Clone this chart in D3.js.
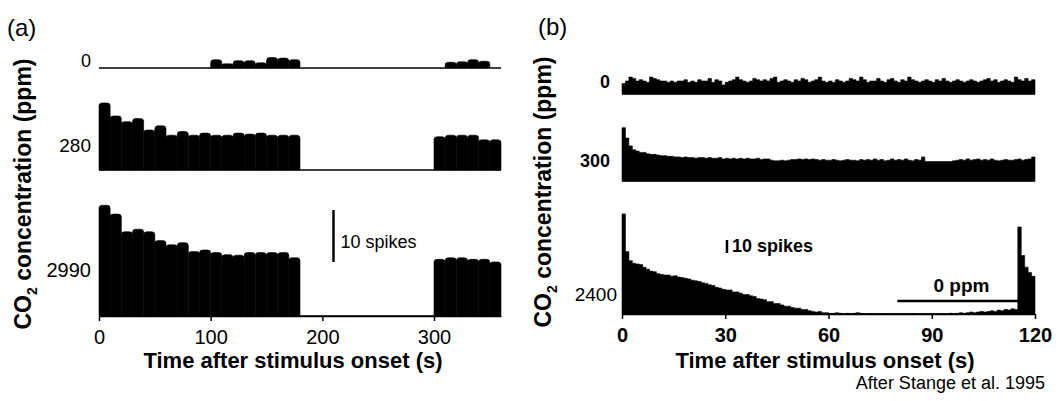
<!DOCTYPE html>
<html>
<head>
<meta charset="utf-8">
<script src="https://cdn.jsdelivr.net/npm/d3@7"></script>
<style>
  body { margin: 0; background: #fff; }
  text { font-family: "Liberation Sans", Arial, sans-serif; fill: #000; }
</style>
</head>
<body>
<div id="container"></div>
<script>
// ---- panel (a): 10 s bins, spikes per bin ----
var aBinEdges = d3.range(0, 360, 10);
var aRowLabels = ['0', '280', '2990'];
var aRow0 = [0,0,0,0,0,0,0,0,0,0, 1.6,0.8,1.4,1.4,1.0,2.0,1.9,1.6,
             0,0,0,0,0,0,0,0,0,0,0,0, 0,1.1,1.2,1.6,1.3,0];
var aRow280 = [12.9,10.4,9.3,9.9,7.7,8.5,6.7,7.4,6.7,7.1,6.7,6.7,7.1,6.9,7.1,6.7,6.7,6.7,
               0,0,0,0,0,0,0,0,0,0,0,0, 6.4,6.7,6.7,6.7,5.8,5.8];
var aRow2990 = [21.3,19.6,16.2,16.7,16.2,14.5,13.7,14.1,12.4,12.7,12.2,11.8,11.7,12.2,12.2,12.2,12.2,11.2,
                0,0,0,0,0,0,0,0,0,0,0,0, 10.9,11.2,11.2,10.9,10.9,10.4];
var aTicks = [0, 100, 200, 300];

// ---- panel (b): 1 s bins, spikes per bin ----
var bRowLabels = ['0', '300', '2400'];
var bRow0 = [8,10,13,12,10,11,10,9,13,12, 11,10,10,9,10,9,10,10,11,9,
             10,9,11,10,10,12,9,11,10,7, 9,10,11,13,11,10,9,10,12,11,
             10,11,10,12,13,9,10,11,10,9, 11,10,12,11,9,10,11,13,10,9,
             10,9,11,10,9,10,12,11,10,13, 11,9,10,10,12,10,9,11,12,10,
             9,11,10,13,11,10,9,10,11,10, 9,11,10,12,10,9,10,11,10,9,
             10,11,10,9,10,11,12,10,11,9, 10,11,10,9,13,11,10,12,10,11];
var bRow300 = [41,33,27,24,23,22,22,21,20.5,20.5, 20,19.5,19.5,19,19,18.5,18.5,18,18.5,18,
               18,17.5,18,18,17.5,18,17.5,17.5,18,17, 17.5,17,17.5,17,17.5,17,17.5,17,17,17.5,
               16.5,17,17,16,15.5,15.5,16,15.5,16,16.5, 16.5,17,16.5,17,16.5,17,16.5,16,16.5,16,
               16,16.5,16,15.5,16,16.5,16,16,15.5,16.5, 16,16.5,16,17,16,16.5,15.5,16,17,16,
               16.5,16,17,16,15.5,16.5,16,18.5,15,15, 15,15,15,15,15,15,15.5,16,16.5,16,
               17,16,16.5,17,16,16.5,16,17,16,15.5, 16,16.5,16,16,16.5,17,16,16.5,17,18.5];
var bRow2400 = [77,48,41,39,38.5,38,36,34.5,33,32.5, 31,30.5,30,30,29,29.5,28.5,28,27.5,27,
                26,25.5,25,24,23.5,22.5,22,20.5,20,19, 18.5,18.5,17,17,16,15,15,14,13.5,12,
                11.5,11,9.5,9.5,8,8,7,6,6,5, 4.5,4.5,3.5,3.5,2.5,2,1.5,2,1,1,
                0.5,0.5,1,0.5,0,0.5,0,0.5,1,0.5, 0,0,0.3,0,0,0,0.3,0,0,0,
                0,0,0,0,0.3,0,0,0,0,0, 0,0,0,0,0,0.5,0,0.5,1,0.5,
                1,1.5,1,1.5,2,1.5,2,2.5,2,3, 2.5,3.5,3,4,3.5,67,45,36,32,29];
var bTicks = [0, 30, 60, 90, 120];
var bStimulus = [80, 115.5];   // 0 ppm period (s)

var spikeScaleBar = 10;

var width = 1058, height = 401;
var svg = d3.select('#container').append('svg')
    .attr('width', width).attr('height', height);

// ================= panel (a) =================
var xa = d3.scaleLinear().domain([0, 360]).range([99, 501]);
var aBases = [68, 170, 316];
var aPx = 5.2; // px per spike
var aLabelSize = [18, 19, 20];
var aLabelOffset = [6, 23, 44];

[aRow0, aRow280, aRow2990].forEach(function(row, ri){
    var base = aBases[ri];
    var y = d3.scaleLinear().domain([0, 10]).range([base, base - 10 * aPx]);
    svg.append('line')
        .attr('x1', xa(0)).attr('x2', xa(360))
        .attr('y1', base).attr('y2', base)
        .attr('stroke', '#000').attr('stroke-width', 1.5);
    svg.append('g').selectAll('path')
        .data(row.map(function(v, i){ return {t: aBinEdges[i], v: v}; }).filter(function(d){ return d.v > 0; }))
        .enter().append('path')
        .attr('d', function(d){
            var x0 = xa(d.t), x1 = xa(d.t + 10), y0 = y(0), y1 = y(d.v);
            var r = Math.min(3, (y0 - y1) / 2);
            return 'M' + x0 + ',' + y0 + 'L' + x0 + ',' + (y1 + r) +
                'Q' + x0 + ',' + y1 + ' ' + (x0 + r) + ',' + y1 +
                'L' + (x1 - r) + ',' + y1 +
                'Q' + x1 + ',' + y1 + ' ' + x1 + ',' + (y1 + r) +
                'L' + x1 + ',' + y0 + 'Z';
        })
        .attr('fill', '#000').attr('stroke', '#000').attr('stroke-width', 0.6);
    svg.append('text')
        .attr('x', 91).attr('y', base - aLabelOffset[ri])
        .attr('text-anchor', 'end').attr('dominant-baseline', 'middle')
        .style('font-size', aLabelSize[ri] + 'px')
        .text(aRowLabels[ri]);
});

var axA = svg.append('g').attr('transform', 'translate(0,' + aBases[2] + ')')
    .call(d3.axisBottom(xa).tickValues(aTicks).tickSize(5).tickSizeOuter(0).tickPadding(9));
axA.select('.domain').attr('stroke-width', 1.5);
axA.selectAll('line').attr('stroke-width', 1.5);
axA.selectAll('text').style('font-size', '20px').style('font-family', '"Liberation Sans", Arial, sans-serif');

// scale bar (a)
var ya3 = d3.scaleLinear().domain([0, 10]).range([aBases[2], aBases[2] - 10 * aPx]);
svg.append('line')
    .attr('x1', xa(210)).attr('x2', xa(210))
    .attr('y1', 262).attr('y2', 262 - (ya3(0) - ya3(spikeScaleBar)))
    .attr('stroke', '#000').attr('stroke-width', 2.5);
svg.append('text').attr('x', xa(210) + 7).attr('y', 243)
    .attr('dominant-baseline', 'middle').style('font-size', '18px')
    .text(spikeScaleBar + ' spikes');

svg.append('text').attr('x', 293).attr('y', 368).attr('text-anchor', 'middle')
    .style('font-size', '22px').style('font-weight', 'bold')
    .text('Time after stimulus onset (s)');

function yTitle(cx, cy){
    var t = svg.append('text')
        .attr('transform', 'translate(' + cx + ',' + cy + ') rotate(-90)')
        .attr('text-anchor', 'middle')
        .style('font-size', '23px').style('font-weight', 'bold');
    t.append('tspan').text('CO');
    t.append('tspan').attr('dy', 6).style('font-size', '14px').text('2');
    t.append('tspan').attr('dy', -6).text(' concentration (ppm)');
}
yTitle(31, 194);

svg.append('text').attr('x', 7).attr('y', 36).style('font-size', '24px').text('(a)');

// ================= panel (b) =================
var xb = d3.scaleLinear().domain([0, 120]).range([622, 1035]);
var bBases = [94, 181, 314];
var bPx = 1.3;

[bRow0, bRow300, bRow2400].forEach(function(row, ri){
    var base = bBases[ri];
    var y = d3.scaleLinear().domain([0, 10]).range([base, base - 10 * bPx]);
    var pts = row.map(function(v, i){ return {t: i, v: v}; });
    pts.push({t: row.length, v: row[row.length - 1]});
    svg.append('line')
        .attr('x1', xb(0)).attr('x2', xb(120))
        .attr('y1', base).attr('y2', base)
        .attr('stroke', '#000').attr('stroke-width', 1.5);
    svg.append('path').datum(pts)
        .attr('d', d3.area().curve(d3.curveStepAfter)
            .x(function(d){ return xb(d.t); })
            .y0(y(0)).y1(function(d){ return y(d.v); }))
        .attr('fill', '#000').attr('stroke', '#000').attr('stroke-width', 0.6);
    svg.append('text')
        .attr('x', ri == 2 ? 617 : 610)
        .attr('y', [83, 162, 296][ri])
        .attr('text-anchor', 'end').attr('dominant-baseline', 'middle')
        .style('font-size', ri == 2 ? '19px' : '18px')
        .style('font-weight', ri == 2 ? 'normal' : 'bold')
        .text(bRowLabels[ri]);
});

var axB = svg.append('g').attr('transform', 'translate(0,' + bBases[2] + ')')
    .call(d3.axisBottom(xb).tickValues(bTicks).tickSize(5).tickSizeOuter(0).tickPadding(9));
axB.select('.domain').attr('stroke-width', 1.5);
axB.selectAll('line').attr('stroke-width', 1.5);
axB.selectAll('text').style('font-size', '20px').style('font-weight', 'bold')
    .style('font-family', '"Liberation Sans", Arial, sans-serif');

// scale bar (b)
var yb3 = d3.scaleLinear().domain([0, 10]).range([bBases[2], bBases[2] - 10 * bPx]);
svg.append('line')
    .attr('x1', xb(30.5)).attr('x2', xb(30.5))
    .attr('y1', 253).attr('y2', 253 - (yb3(0) - yb3(spikeScaleBar)))
    .attr('stroke', '#000').attr('stroke-width', 2.5);
svg.append('text').attr('x', xb(30.5) + 5).attr('y', 247)
    .attr('dominant-baseline', 'middle').style('font-size', '18px').style('font-weight', 'bold')
    .text(spikeScaleBar + ' spikes');

// 0 ppm stimulus bar
svg.append('line')
    .attr('x1', xb(bStimulus[0])).attr('x2', xb(bStimulus[1]))
    .attr('y1', 301).attr('y2', 301)
    .attr('stroke', '#000').attr('stroke-width', 2.5);
svg.append('text').attr('x', xb((bStimulus[0] + bStimulus[1]) / 2) + 3).attr('y', 287)
    .attr('text-anchor', 'middle').attr('dominant-baseline', 'middle')
    .style('font-size', '19px').style('font-weight', 'bold')
    .text('0 ppm');

svg.append('text').attr('x', 825).attr('y', 368).attr('text-anchor', 'middle')
    .style('font-size', '22px').style('font-weight', 'bold')
    .text('Time after stimulus onset (s)');

yTitle(551, 192);

svg.append('text').attr('x', 538).attr('y', 35).style('font-size', '24px').text('(b)');

svg.append('text').attr('x', 1045).attr('y', 389).attr('text-anchor', 'end')
    .style('font-size', '18px')
    .text('After Stange et al. 1995');
</script>
</body>
</html>
